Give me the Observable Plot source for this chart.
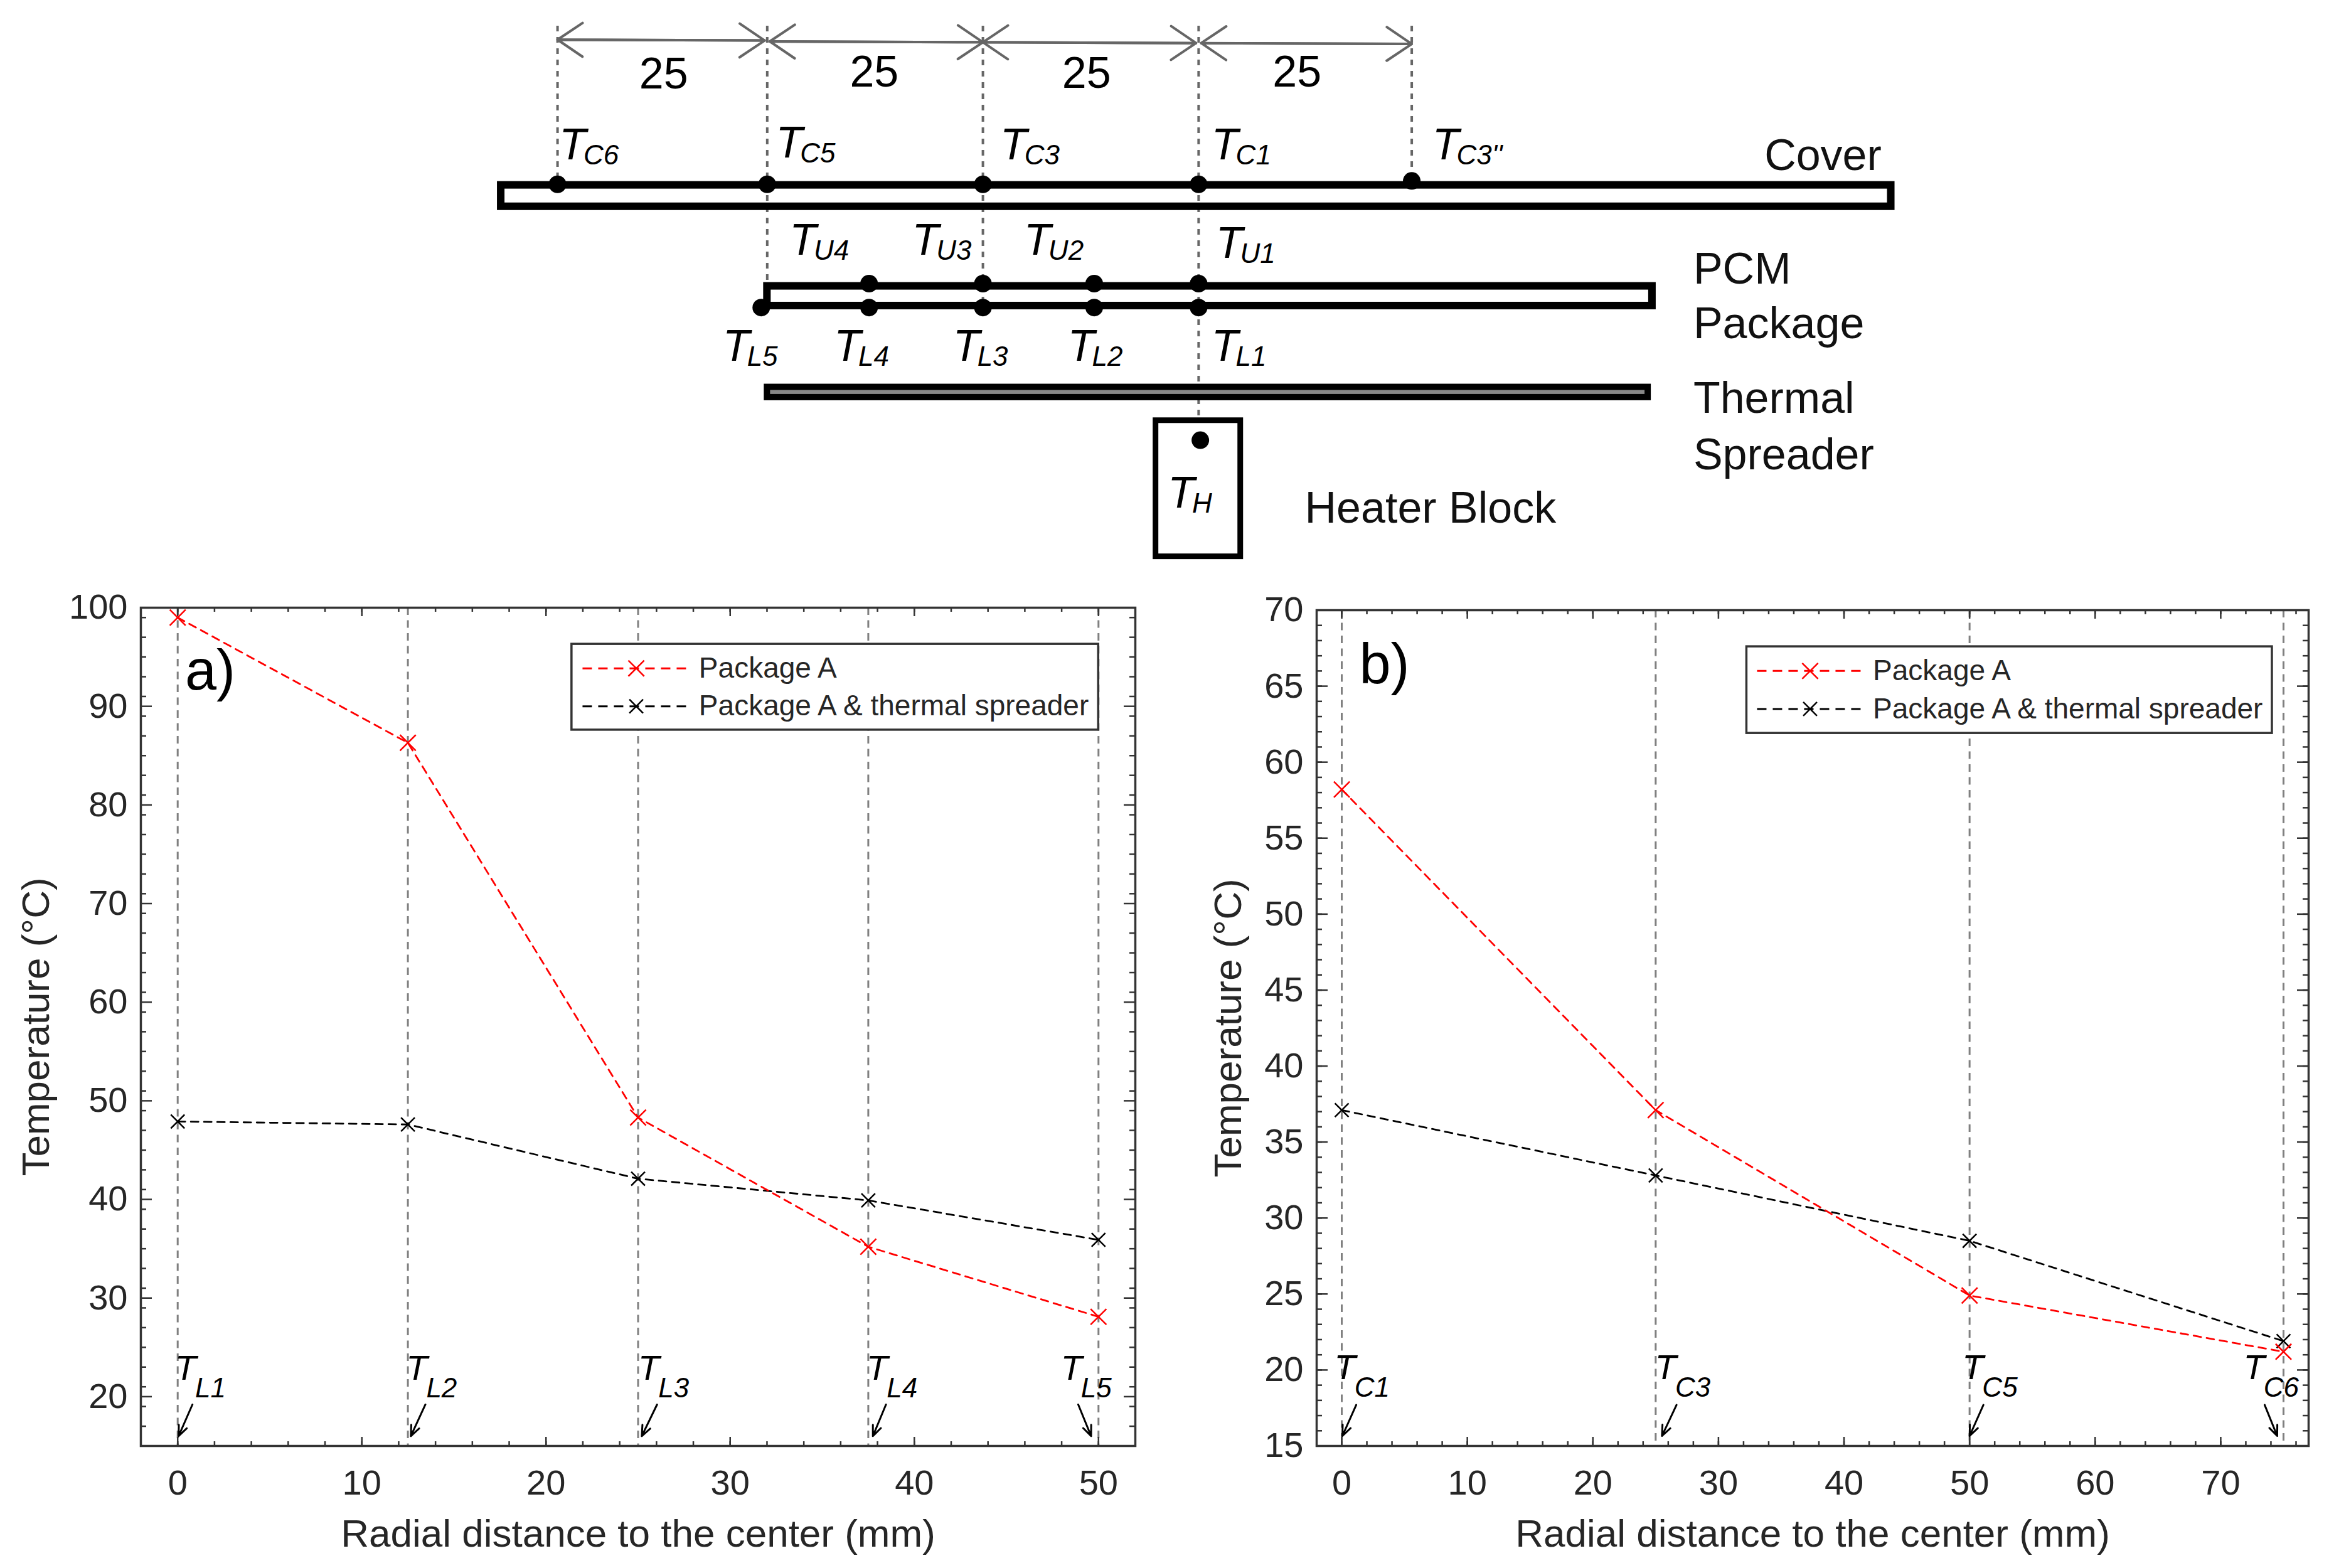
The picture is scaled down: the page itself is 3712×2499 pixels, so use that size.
<!DOCTYPE html>
<html lang="en">
<head>
<meta charset="utf-8">
<title>Radial temperature profiles of the PCM package</title>
<script src="https://cdn.jsdelivr.net/npm/d3@7"></script>
<script src="https://cdn.jsdelivr.net/npm/@observablehq/plot@0.6"></script>
<style>
  body { margin: 0; background: #fff; width: 3712px; height: 2499px; position: relative; overflow: hidden; }
  #graphic svg { position: absolute; overflow: visible; background: none; }
</style>
</head>
<body>
<div id="graphic"></div>
<script>
// panel a (package lower face)
const radialA = [0, 12.5, 25, 37.5, 50];
const packageA = [99, 86.3, 48.3, 35.2, 28.1];
const spreaderA = [47.9, 47.6, 42.1, 39.9, 35.9];
const xTicksA = [0, 10, 20, 30, 40, 50];
const yTicksA = [20, 30, 40, 50, 60, 70, 80, 90, 100];
const sensorsA = ["TL1", "TL2", "TL3", "TL4", "TL5"];
const sensorXA = [-0.15, 12.4, 25, 37.4, 47.95];
const arrowTailA = [0.8, 13.45, 26.03, 38.46, 48.9];
const arrowHeadA = [0.05, 12.66, 25.2, 37.75, 49.6];

// panel b (cover)
const radialB = [0, 25, 50, 75];
const packageB = [58.2, 37.1, 24.9, 21.2];
const spreaderB = [37.1, 32.8, 28.5, 21.9];
const xTicksB = [0, 10, 20, 30, 40, 50, 60, 70];
const yTicksB = [15, 20, 25, 30, 35, 40, 45, 50, 55, 60, 65, 70];
const sensorsB = ["TC1", "TC3", "TC5", "TC6"];
const sensorXB = [-0.6, 24.95, 49.4, 71.8];
const arrowTailB = [1.15, 26.66, 51.1, 73.5];
const arrowHeadB = [0.05, 25.5, 50, 74.5];

const legendNames = ["Package A", "Package A & thermal spreader"];

// schematic, in mm from the heater axis and from the top of the drawing
const dimX1 = [-74.9, -50.1, -25.2, 0.3];
const dimX2 = [-50.7, -25.2, -0.3, 24.9];
const dimY1 = [4.6, 4.8, 4.9, 5];
const dimY2 = [4.7, 4.9, 5, 5.1];
const dimTextX = [-62.5, -37.9, -13.1, 11.5];
const dimTextY = [10.3, 10.1, 10.2, 10.1];
const dropX = [-74.9, -50.4, -25.2, 0, 24.9];
const dropEnd = [21.1, 33.4, 35.9, 48.7, 21.1];
const barLeft = [-81.5, -50.4];
const barRight = [80.9, 53];
const barTop = [21.6, 33.4];
const barBottom = [24.1, 35.7];
const dotX = [-74.9, -50.4, -25.2, 0, 24.9, -38.5, -25.2, -12.2, 0, -51.1, -38.5, -25.2, -12.2, 0, 0.2];
const dotY = [21.5, 21.5, 21.5, 21.5, 21.1, 33.1, 33.1, 33.1, 33.1, 35.9, 35.9, 35.9, 35.9, 35.9, 51.4];
const tagNames = ["TC6", "TC5", "TC3", "TC1", "TC3''", "TU4", "TU3", "TU2", "TU1", "TL5", "TL4", "TL3", "TL2", "TL1", "TH"];
const tagX = [-74.7, -49.4, -23.2, 1.5, 27.3, -47.8, -33.5, -20.4, 2, -55.6, -42.6, -28.7, -15.3, 1.5, -3.6];
const tagY = [18.6, 18.4, 18.6, 18.6, 18.6, 29.7, 29.7, 29.7, 30.1, 42.1, 42.1, 42.1, 42.1, 42.1, 59.3];
const partNames = ["Cover", "PCM", "Package", "Thermal", "Spreader", "Heater Block"];
const partX = [66.1, 57.8, 57.8, 57.8, 57.8, 12.4];
const partY = [19.8, 33.1, 39.5, 48.2, 54.8, 61];

const font = "'Liberation Sans', Arial, sans-serif";
const frameColor = "#333333";

// T + subscript as one text element
function addSubscripts(svg, cls, dx, dy, size) {
  d3.select(svg).selectAll(`.${cls} text`).each(function () {
    const label = this.textContent;
    this.textContent = label[0];
    d3.select(this).append("tspan").attr("dx", dx).attr("dy", dy).attr("font-size", size).text(label.slice(1));
  });
}

function insideTicks(xDomain, yDomain, xMajor, yMajor, yStep, w, h) {
  const ux = (xDomain[1] - xDomain[0]) / w, uy = (yDomain[1] - yDomain[0]) / h;
  const xMinor = d3.range(0, xDomain[1], 2);
  const yMinor = d3.range(yDomain[0], yDomain[1], yStep);
  const style = {stroke: frameColor, strokeWidth: 2.5};
  return [
    [xMajor, 14, yMajor, 18],
    [xMinor, 7, yMinor, 9]
  ].flatMap(([xs, xLen, ys, yLen]) => [
    Plot.ruleX(xs, {x: d => d, y1: yDomain[0], y2: yDomain[0] + xLen * uy, ...style}),
    Plot.ruleX(xs, {x: d => d, y1: yDomain[1], y2: yDomain[1] - xLen * uy, ...style}),
    Plot.ruleY(ys, {y: d => d, x1: xDomain[0], x2: xDomain[0] + yLen * ux, ...style}),
    Plot.ruleY(ys, {y: d => d, x1: xDomain[1], x2: xDomain[1] - yLen * ux, ...style})
  ]);
}

function panel(p) {
  const w = p.width - p.marginLeft - p.marginRight;
  const h = p.height - p.marginTop - p.marginBottom;
  const dash = {strokeWidth: 2.8, strokeDasharray: "12 9"};
  const svg = Plot.plot({
    width: p.width,
    height: p.height,
    marginLeft: p.marginLeft,
    marginRight: p.marginRight,
    marginTop: p.marginTop,
    marginBottom: p.marginBottom,
    style: {fontFamily: font, fontSize: "56px", color: "#262626", background: "none"},
    x: {domain: p.xDomain, ticks: p.xTicks, tickSize: 0, tickPadding: 38, label: "Radial distance to the center (mm)", labelAnchor: "center", labelArrow: "none", labelOffset: 160},
    y: {domain: p.yDomain, ticks: p.yTicks, tickSize: 0, tickPadding: 21, label: "Temperature (°C)", labelAnchor: "center", labelArrow: "none", labelOffset: p.yLabelOffset},
    marks: [
      Plot.ruleX(p.radial, {x: d => d, stroke: "#808080", strokeWidth: 3, strokeDasharray: "12 8.5"}),
      ...insideTicks(p.xDomain, p.yDomain, p.xTicks, p.yTicks, p.yStep, w, h),
      Plot.frame({stroke: frameColor, strokeWidth: 3.5}),
      Plot.line(p.series2, {x: p.radial, y: p.series2, stroke: "black", ...dash}),
      Plot.line(p.series1, {x: p.radial, y: p.series1, stroke: "red", ...dash}),
      Plot.dot(p.series2, {x: p.radial, y: p.series2, symbol: "times", r: 10, stroke: "black", strokeWidth: 2.5}),
      Plot.dot(p.series1, {x: p.radial, y: p.series1, symbol: "times", r: 11.5, stroke: "red", strokeWidth: 2.5}),
      Plot.text([p.letter], {x: p.letterX, y: p.letterY, textAnchor: "start", lineAnchor: "bottom", fontSize: 90, fill: "black"}),
      Plot.text(p.sensors, {x: p.sensorX, y: p.sensorY, textAnchor: "start", lineAnchor: "bottom", fontSize: 56, fontStyle: "italic", fill: "black", className: "sensor"}),
      Plot.arrow(p.sensors, {x1: p.arrowTail, x2: p.arrowHead, y1: p.arrowY1, y2: p.arrowY2, stroke: "black", strokeWidth: 3, headLength: 9, headAngle: 45}),
      // legend
      Plot.rect([0], {x1: p.legend.x1, x2: p.legend.x2, y1: p.legend.y1, y2: p.legend.y2, fill: "white", stroke: frameColor, strokeWidth: 3.5}),
      Plot.ruleY([p.legend.row1], {y: d => d, x1: p.legend.s1, x2: p.legend.s2, stroke: "red", strokeWidth: 3, strokeDasharray: "15 10"}),
      Plot.ruleY([p.legend.row2], {y: d => d, x1: p.legend.s1, x2: p.legend.s2, stroke: "black", strokeWidth: 3, strokeDasharray: "15 10"}),
      Plot.dot([p.legend.row1], {x: p.legend.mark, y: d => d, symbol: "times", r: 11.5, stroke: "red", strokeWidth: 2.5}),
      Plot.dot([p.legend.row2], {x: p.legend.mark, y: d => d, symbol: "times", r: 10, stroke: "black", strokeWidth: 2.5}),
      Plot.text(legendNames, {x: p.legend.text, y: [p.legend.row1, p.legend.row2], textAnchor: "start", fontSize: 46, fill: "#262626"})
    ]
  });
  addSubscripts(svg, "sensor", -2, 28, 44);
  d3.select(svg).selectAll('[aria-label="x-axis label"] text, [aria-label="y-axis label"] text').attr("font-size", 62);
  svg.style.left = p.left + "px";
  svg.style.top = p.top + "px";
  return svg;
}

const graphic = document.getElementById("graphic");

graphic.appendChild(Plot.plot({
  width: 3712,
  height: 930,
  margin: 0,
  style: {fontFamily: font, color: "black", background: "none"},
  x: {domain: [-140, 132.1], range: [0, 3712], axis: null},
  y: {domain: [0, 68.18], range: [0, 930], axis: null},
  marks: [
    Plot.ruleX(dropX, {x: dropX, y1: 3, y2: dropEnd, stroke: "#666", strokeWidth: 4, strokeDasharray: "9 9"}),
    Plot.arrow(dimX1, {x1: dimX1, x2: dimX2, y1: dimY1, y2: dimY2, stroke: "#666", strokeWidth: 4, headLength: 18, headAngle: 68}),
    Plot.arrow(dimX1, {x1: dimX2, x2: dimX1, y1: dimY2, y2: dimY1, stroke: "#666", strokeWidth: 4, headLength: 18, headAngle: 68}),
    Plot.text(dimTextX, {x: dimTextX, y: dimTextY, text: () => "25", lineAnchor: "bottom", fontSize: 70}),
    Plot.rect(barLeft, {x1: barLeft, x2: barRight, y1: barTop, y2: barBottom, fill: "none", stroke: "black", strokeWidth: 12}),
    Plot.rect([0], {x1: -50.4, x2: 52.5, y1: 45.2, y2: 46.4, fill: "#888", stroke: "black", strokeWidth: 10}),
    Plot.rect([0], {x1: -5, x2: 4.9, y1: 49.1, y2: 65, fill: "none", stroke: "black", strokeWidth: 9}),
    Plot.dot(dotX, {x: dotX, y: dotY, r: 14, fill: "black"}),
    Plot.text(tagNames, {x: tagX, y: tagY, textAnchor: "start", lineAnchor: "bottom", fontSize: 70, fontStyle: "italic", className: "tag"}),
    Plot.text(partNames, {x: partX, y: partY, textAnchor: "start", lineAnchor: "bottom", fontSize: 70, fill: "#111"})
  ]
}));
addSubscripts(graphic.lastChild, "tag", -4, 8, 44);
graphic.lastChild.style.left = "0px";
graphic.lastChild.style.top = "0px";

graphic.appendChild(panel({
  left: 0, top: 930, width: 1849, height: 1569,
  marginLeft: 224, marginRight: 40, marginTop: 38, marginBottom: 195,
  xDomain: [-2, 52], yDomain: [15, 100], yStep: 2,
  xTicks: xTicksA, yTicks: yTicksA, yLabelOffset: 191,
  radial: radialA, series1: packageA, series2: spreaderA,
  letter: "a)", letterX: 0.4, letterY: 91.7,
  sensors: sensorsA, sensorX: sensorXA, sensorY: sensorsA.map(() => 21.7),
  arrowTail: arrowTailA, arrowHead: arrowHeadA, arrowY1: sensorsA.map(() => 19.2), arrowY2: sensorsA.map(() => 16),
  legend: {x1: 21.4, x2: 50, y1: 96.3, y2: 87.6, row1: 93.85, row2: 90, s1: 22, s2: 27.9, mark: 24.9, text: 28.3}
}));

graphic.appendChild(panel({
  left: 1880, top: 930, width: 1832, height: 1569,
  marginLeft: 218, marginRight: 33, marginTop: 42, marginBottom: 195,
  xDomain: [-2, 77], yDomain: [15, 70], yStep: 1,
  xTicks: xTicksB, yTicks: yTicksB, yLabelOffset: 165,
  radial: radialB, series1: packageB, series2: spreaderB,
  letter: "b)", letterX: 1.4, letterY: 65.2,
  sensors: sensorsB, sensorX: sensorXB, sensorY: sensorsB.map(() => 19.4),
  arrowTail: arrowTailB, arrowHead: arrowHeadB, arrowY1: sensorsB.map(() => 17.7), arrowY2: sensorsB.map(() => 15.66),
  legend: {x1: 32.25, x2: 74.1, y1: 67.6, y2: 61.9, row1: 66, row2: 63.5, s1: 33.1, s2: 41.7, mark: 37.3, text: 42.3}
}));
</script>
</body>
</html>
